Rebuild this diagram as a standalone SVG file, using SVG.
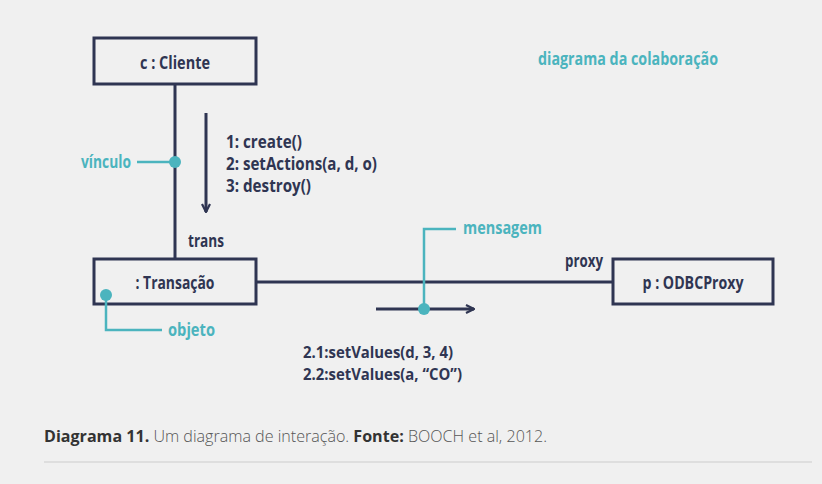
<svg xmlns="http://www.w3.org/2000/svg" width="822" height="484" viewBox="0 0 822 484">
<defs>
<style>
.bg{fill:#f0f0f0}
.box{fill:none;stroke:#2f3552;stroke-width:3}
.ln{fill:none;stroke:#2f3552;stroke-width:3}
.tl{fill:none;stroke:#4bb4be;stroke-width:2.5}
.dot{fill:#4bb4be}
.t{font-family:"Open Sans","Noto Sans",sans-serif;font-weight:700;font-size:17.5px;fill:#2f3552}
.s{font-size:16.5px}
.c{text-anchor:middle}
.tt{font-family:"Open Sans","Noto Sans",sans-serif;font-weight:700;font-size:17.5px;fill:#4bb4be}
.cap{font-family:"Open Sans","Noto Sans",sans-serif;font-size:16px;fill:#555;font-weight:300}
.capb{font-weight:700;fill:#333}
</style>
<marker id="ah" viewBox="0 0 10 10" refX="9" refY="5" markerWidth="10" markerHeight="10" markerUnits="userSpaceOnUse" orient="auto">
<path d="M1,1 L9,5 L1,9" fill="none" stroke="#2f3552" stroke-width="2.2"/>
</marker>
</defs>
<rect class="bg" x="0" y="0" width="822" height="484"/>
<g id="connectors">
<line class="ln" x1="175" y1="85" x2="175" y2="259"/>
<line class="ln" x1="257" y1="282" x2="613" y2="282"/>
<line class="ln" x1="206" y1="113" x2="206" y2="212" marker-end="url(#ah)"/>
<line class="ln" x1="376" y1="309" x2="474" y2="309" marker-end="url(#ah)"/>
<text class="t" x="188" y="247" textLength="36" lengthAdjust="spacingAndGlyphs">trans</text>
<text class="t" x="565" y="267" textLength="38" lengthAdjust="spacingAndGlyphs">proxy</text>
<text class="t" x="226" y="148" textLength="76" lengthAdjust="spacingAndGlyphs">1: create()</text>
<text class="t" x="226" y="170" textLength="151" lengthAdjust="spacingAndGlyphs">2: setActions(a, d, o)</text>
<text class="t" x="226" y="192" textLength="85" lengthAdjust="spacingAndGlyphs">3: destroy()</text>
<text class="t s" x="303" y="358" textLength="150" lengthAdjust="spacingAndGlyphs">2.1:setValues(d, 3, 4)</text>
<text class="t s" x="303" y="380" textLength="159" lengthAdjust="spacingAndGlyphs">2.2:setValues(a, “CO”)</text>
</g>
<g id="cliente">
<rect class="box" x="94" y="38" width="162" height="46"/>
<text class="t c" x="175" y="69" textLength="70" lengthAdjust="spacingAndGlyphs">c : Cliente</text>
</g>
<g id="transacao">
<rect class="box" x="94" y="259" width="162" height="45"/>
<text class="t c" x="175" y="289" textLength="79" lengthAdjust="spacingAndGlyphs">: Transação</text>
</g>
<g id="odbcproxy">
<rect class="box" x="613" y="259" width="160" height="45"/>
<text class="t c" x="693" y="289" textLength="101" lengthAdjust="spacingAndGlyphs">p : ODBCProxy</text>
</g>
<g id="vinculo">
<line class="tl" x1="137" y1="162" x2="172" y2="162"/>
<circle class="dot" cx="175" cy="162" r="6"/>
<text class="tt" x="81" y="168" textLength="50" lengthAdjust="spacingAndGlyphs">vínculo</text>
</g>
<g id="objeto">
<polyline class="tl" points="106,295 106,330 162,330"/>
<circle class="dot" cx="106" cy="295" r="6"/>
<text class="tt" x="168" y="336" textLength="47" lengthAdjust="spacingAndGlyphs">objeto</text>
</g>
<g id="mensagem">
<polyline class="tl" points="424,309 424,229 456,229"/>
<circle class="dot" cx="424" cy="309" r="6"/>
<text class="tt" x="463" y="234" textLength="79" lengthAdjust="spacingAndGlyphs">mensagem</text>
</g>
<g id="titulo">
<text class="tt" x="538" y="65" textLength="180" lengthAdjust="spacingAndGlyphs">diagrama da colaboração</text>
</g>
<g id="caption">
<text class="cap" x="44" y="442" textLength="503" lengthAdjust="spacingAndGlyphs"><tspan class="capb">Diagrama 11.</tspan> Um diagrama de interação. <tspan class="capb">Fonte:</tspan> BOOCH et al, 2012.</text>
<line x1="44" y1="462" x2="812" y2="462" stroke="#d8d8d8" stroke-width="1.5"/>
</g>
</svg>
